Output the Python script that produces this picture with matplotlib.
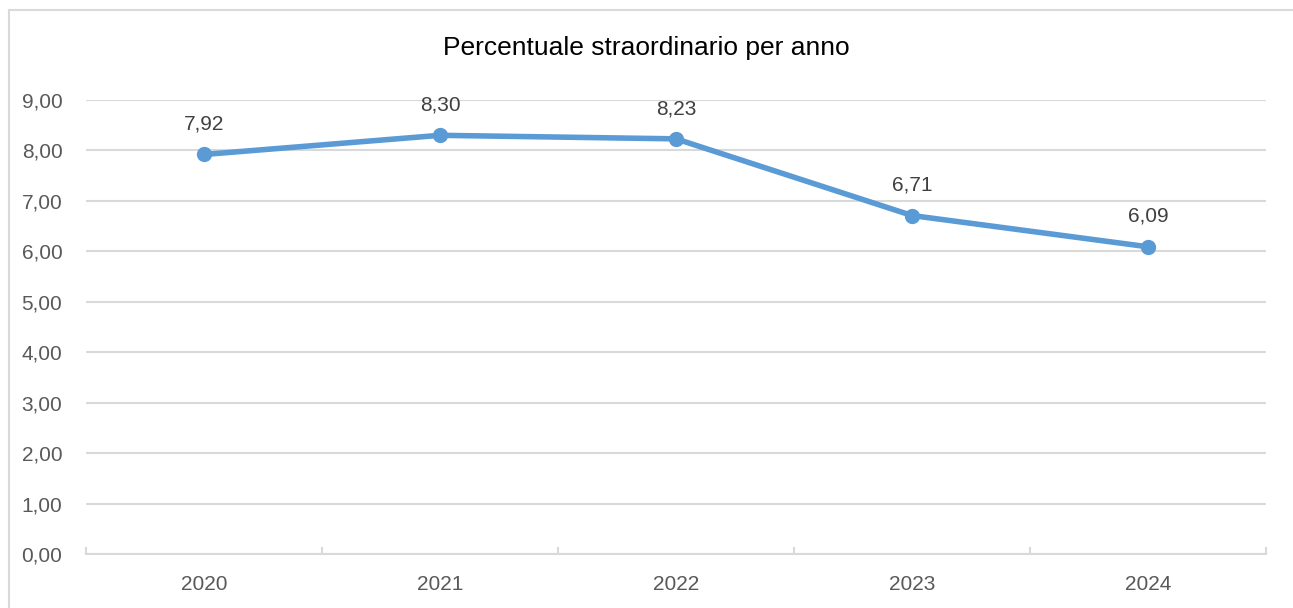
import matplotlib
matplotlib.use("Agg")
import matplotlib.pyplot as plt
from matplotlib.patches import Rectangle

years = ["2020", "2021", "2022", "2023", "2024"]
values = [7.92, 8.30, 8.23, 6.71, 6.09]
yticks = [0, 1, 2, 3, 4, 5, 6, 7, 8, 9]

plt.rcParams['font.family'] = ['Liberation Sans', 'DejaVu Sans']

fig = plt.figure(figsize=(12.93, 6.08), dpi=100)
ax = fig.add_axes([86 / 1293, 54 / 608, (1266 - 86) / 1293, (554 - 100) / 608])

# outer chart frame (cut at right/bottom like the reference)
fig.patches.append(Rectangle((9 / 1293, -0.05), 1.2, (598 / 608) + 0.05,
                             transform=fig.transFigure, fill=False,
                             edgecolor='#d9d9d9', linewidth=1.5))

x = list(range(len(years)))
ax.plot(x, values, color='#5b9bd5', linewidth=4, marker='o', markersize=10,
        solid_capstyle='round', zorder=3)
for xi, v in zip(x, values):
    ax.annotate(f"{v:.2f}".replace('.', ','), (xi, v), xytext=(0, 15),
                textcoords='offset points', ha='center', va='bottom',
                fontsize=15, color='#404040')

ax.set_xlim(-0.5, len(years) - 0.5)
ax.set_ylim(0, 9)
ax.set_yticks(yticks)
ax.set_yticklabels([f"{t:.2f}".replace('.', ',') for t in yticks])
ax.set_xticks(x)
ax.set_xticklabels(years)
ax.set_xticks([i - 0.5 for i in range(len(years) + 1)], minor=True)

ax.grid(axis='y', color='#d9d9d9', linewidth=1.5)
ax.set_axisbelow(True)
for s in ['top', 'right', 'left']:
    ax.spines[s].set_visible(False)
ax.spines['bottom'].set_color('#d9d9d9')
ax.spines['bottom'].set_linewidth(1.5)

ax.tick_params(axis='y', length=0, labelsize=15, labelcolor='#595959', pad=17)
ax.tick_params(axis='x', which='major', length=0, labelsize=15,
               labelcolor='#595959', pad=15)
ax.tick_params(axis='x', which='minor', direction='in', length=5,
               color='#d9d9d9', width=1.5)

fig.text(0.5, 1 - 48 / 608, "Percentuale straordinario per anno",
         ha='center', va='center', fontsize=19, color='#000000')

fig.savefig("out.png", dpi=100)
